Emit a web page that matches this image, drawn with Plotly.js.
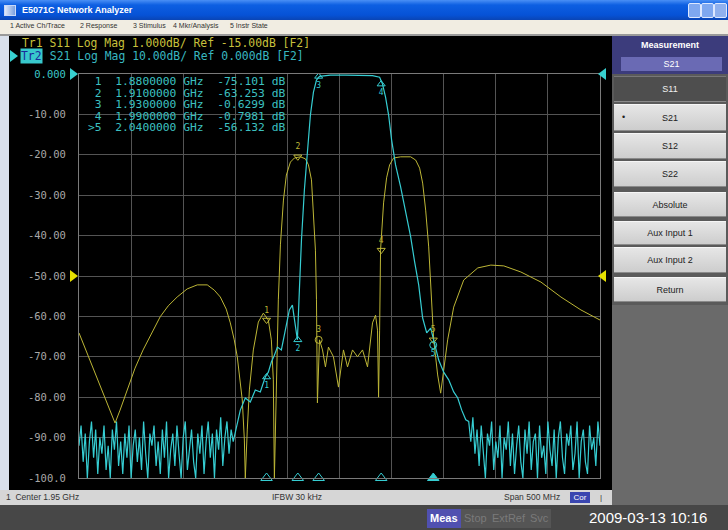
<!DOCTYPE html>
<html><head><meta charset="utf-8">
<script src="https://cdn.plot.ly/plotly-3.0.1.min.js"></script>
<style>
body{margin:0;width:728px;height:530px;overflow:hidden;background:#000;font-family:"Liberation Sans",Arial,sans-serif;position:relative}
.a{position:absolute;white-space:nowrap}
.btn{position:absolute;left:614px;width:112px;background:linear-gradient(#e6e6e6,#cdcdcd);color:#222;font-size:9px;text-align:center;box-sizing:border-box;border-top:1px solid #f6f6f6;border-bottom:1px solid #8a8a8a}
.mi{position:absolute;top:22px;font-size:7px;color:#333}
.bb{position:absolute;top:509px;height:19px;line-height:19px;font-size:11px;padding:0 3px;box-sizing:border-box}
#mktable{position:absolute;left:88px;top:76px;font-family:"DejaVu Sans Mono",monospace;font-size:11.3px;line-height:11.6px;color:#3cc0c0;white-space:pre;z-index:5}
</style></head><body>
<!-- window title bar -->
<div class="a" style="left:0;top:0;width:728px;height:20px;background:linear-gradient(#4a8ff5,#0d5fe2 25%,#0652d6 75%,#0a45b5)"></div>
<div class="a" style="left:4px;top:5px;width:10px;height:9px;background:linear-gradient(90deg,#e0e8f8,#7aa0e0);border:1px solid #c8d8f8"></div>
<div class="a" style="left:22px;top:0;height:20px;line-height:20px;font-size:9px;font-weight:bold;color:#fff">E5071C Network Analyzer</div>
<div class="a" style="left:688px;top:3px;width:11px;height:13px;background:#7fa8f0;border:1px solid #dde8ff;border-radius:2px"></div>
<div class="a" style="left:701px;top:3px;width:11px;height:13px;background:#7fa8f0;border:1px solid #dde8ff;border-radius:2px"></div>
<div class="a" style="left:714px;top:3px;width:11px;height:13px;background:#8fb0ee;border:1px solid #dde8ff;border-radius:2px"></div>
<!-- menu bar -->
<div class="a" style="left:0;top:20px;width:728px;height:14px;background:#f1ede2"></div>
<div class="mi" style="left:10px">1 Active Ch/Trace</div>
<div class="mi" style="left:80px">2 Response</div>
<div class="mi" style="left:133px">3 Stimulus</div>
<div class="mi" style="left:173px">4 Mkr/Analysis</div>
<div class="mi" style="left:230px">5 Instr State</div>
<div class="a" style="left:0;top:34px;width:728px;height:2px;background:#9a9a9a"></div>
<!-- left strip -->
<div class="a" style="left:0;top:36px;width:9px;height:469px;background:#d9e0ec"></div>
<!-- chart -->
<div id="chart" class="a" style="left:9px;top:36px;width:603px;height:454px"></div>
<div id="mktable"></div>
<!-- right panel -->
<div class="a" style="left:612px;top:36px;width:116px;height:469px;background:#5a5a5a"></div>
<div class="a" style="left:612px;top:36px;width:116px;height:38px;background:#3c3c7c"></div>
<div class="a" style="left:612px;top:40px;width:116px;text-align:center;font-size:9px;font-weight:bold;color:#fff">Measurement</div>
<div class="a" style="left:621px;top:57px;width:101px;height:14px;line-height:14px;background:#6a6ab4;text-align:center;font-size:9px;color:#fff">S21</div>
<div class="btn" style="top:76px;height:26px;line-height:25px;background:#4e4e4e;color:#f0f0f0;border-top:1px solid #777">S11</div>
<div class="btn" style="top:104px;height:27px;line-height:26px">S21</div>
<div class="a" style="left:622px;top:104px;line-height:26px;font-size:9px;color:#222">&#8226;</div>
<div class="btn" style="top:133px;height:26px;line-height:25px">S12</div>
<div class="btn" style="top:161px;height:26px;line-height:25px">S22</div>
<div class="btn" style="top:192px;height:25px;line-height:24px">Absolute</div>
<div class="btn" style="top:221px;height:24px;line-height:23px">Aux Input 1</div>
<div class="btn" style="top:247px;height:26px;line-height:25px">Aux Input 2</div>
<div class="btn" style="top:277px;height:25px;line-height:24px">Return</div>
<div class="a" style="left:612px;top:305px;width:116px;height:200px;background:#6a6a6a"></div>
<!-- status bar -->
<div class="a" style="left:0;top:490px;width:612px;height:15px;background:#d6d6d6"></div>
<div class="a" style="left:6px;top:490px;line-height:15px;font-size:8.5px;color:#333">1&nbsp;&nbsp;Center 1.95 GHz</div>
<div class="a" style="left:272px;top:490px;line-height:15px;font-size:8.5px;color:#333">IFBW 30 kHz</div>
<div class="a" style="left:504px;top:490px;line-height:15px;font-size:8.5px;color:#333">Span 500 MHz</div>
<div class="a" style="left:570px;top:492px;width:20px;height:11px;line-height:11px;background:#3a46b0;color:#fff;font-size:8px;text-align:center">Cor</div>
<div class="a" style="left:600px;top:490px;line-height:15px;font-size:8px;color:#333">|</div>
<!-- bottom bar -->
<div class="a" style="left:0;top:505px;width:728px;height:25px;background:#474747"></div>
<div class="bb" style="left:427px;background:#5050b0;color:#fff;font-weight:bold">Meas</div>
<div class="bb" style="left:461px;background:#555;color:#7a7a7a">Stop</div>
<div class="bb" style="left:489px;background:#555;color:#7a7a7a">ExtRef</div>
<div class="bb" style="left:527px;background:#555;color:#7a7a7a">Svc</div>
<div class="a" style="left:589px;top:505px;line-height:25px;font-size:15px;color:#fff">2009-03-13 10:16</div>
<script>
// ---- data ----
const sweepStart = 1.700, sweepStop = 2.200; // GHz (Center 1.95 GHz, Span 500 MHz)
const gridF = [1.70,1.75,1.80,1.85,1.90,1.95,2.00,2.05,2.10,2.15,2.20];
const yTicks = [0,-10,-20,-30,-40,-50,-60,-70,-80,-90,-100];
const yTickText = ['<span style="color:#3cc8c8">0.000</span>','-10.00','-20.00','-30.00','-40.00','-50.00','-60.00','-70.00','-80.00','-90.00','-100.0'];

// Tr1 S11 (yellow)
const s11F = [1.7000,1.7106,1.7202,1.7279,1.7346,1.7394,1.7462,1.7538,1.7615,1.7702,
1.7779,1.7856,1.7942,1.8038,1.8135,1.8231,1.8298,1.8356,1.8413,1.8452,
1.8490,1.8519,1.8548,1.8567,1.8587,1.8596,1.8615,1.8635,1.8673,1.8721,
1.8769,1.8817,1.8846,1.8865,1.8875,1.8894,1.8913,1.8933,1.8962,1.8990,
1.9029,1.9067,1.9125,1.9173,1.9202,1.9231,1.9250,1.9269,1.9279,1.9288,
1.9308,1.9337,1.9365,1.9394,1.9442,1.9490,1.9538,1.9577,1.9625,1.9673,
1.9721,1.9769,1.9817,1.9846,1.9865,1.9875,1.9885,1.9894,1.9923,1.9952,
1.9981,2.0019,2.0087,2.0183,2.0231,2.0269,2.0298,2.0327,2.0356,2.0375,
2.0404,2.0442,2.0471,2.0500,2.0538,2.0596,2.0692,2.0827,2.0952,2.1077,
2.1240,2.1433,2.1625,2.1817,2.2000];
const s11 = [-64.1,-70.8,-77.0,-81.9,-86.4,-83.2,-78.2,-72.8,-68.3,-63.9,
-60.1,-57.4,-55.2,-53.2,-52.2,-52.2,-53.5,-55.2,-58.2,-61.6,
-65.8,-70.0,-75.7,-80.7,-90.6,-100,-88.1,-78.2,-68.3,-61.4,
-59.2,-60.9,-65.8,-75.7,-100,-75.7,-55.9,-42.3,-31.2,-25.0,
-21.8,-20.8,-20.5,-21.0,-22.5,-26.2,-33.7,-43.6,-55.9,-81.4,
-65.8,-68.3,-72.5,-67.6,-70.0,-77.5,-68.3,-72.5,-68.3,-70.0,
-68.3,-72.5,-61.6,-59.7,-63.4,-80.0,-63.4,-43.6,-31.9,-25.7,
-22.5,-20.8,-20.5,-20.5,-21.3,-23.3,-27.0,-33.7,-42.8,-51.7,
-65.8,-74.5,-79.0,-73.3,-65.8,-57.7,-51.0,-48.0,-47.3,-47.5,
-49.0,-51.5,-55.2,-58.4,-60.9];

// Tr2 S21 (cyan): lower noise floor, passband, upper noise floor
const noiseStep = 0.002;
const s21LoNoise = [-92,-87,-96,-89,-100,-91,-86,-95,-88,-99,
-90,-94,-87,-98,-92,-100,-88,-93,-86,-97,
-91,-99,-89,-95,-87,-100,-92,-88,-96,-90,
-98,-86,-94,-100,-89,-92,-87,-97,-91,-99,
-88,-95,-86,-100,-93,-89,-97,-87,-94,-100,
-90,-86,-98,-92,-88,-96,-100,-89,-94,-87,
-99,-91,-86,-95,-89,-100,-88,-93,-85,-97,
-90,-86,-94,-88,-91];
const s21MidF = [1.8548,1.8596,1.8644,1.8692,1.8740,1.8788,1.8817,1.8846,1.8875,1.8904,
1.8942,1.8981,1.9019,1.9048,1.9077,1.9096,1.9115,1.9135,1.9163,1.9192,
1.9221,1.9250,1.9279,1.9308,1.9413,1.9558,1.9702,1.9817,1.9885,1.9913,
1.9942,1.9971,2.0000,2.0038,2.0087,2.0135,2.0183,2.0221,2.0260,2.0298,
2.0337,2.0375,2.0413,2.0452,2.0500,2.0548,2.0596,2.0635,2.0673,2.0712];
const s21Mid = [-83.2,-80.2,-81.2,-78.2,-78.7,-75.0,-73.8,-71.3,-69.6,-67.6,
-68.3,-63.4,-58.4,-57.2,-62.1,-65.8,-53.5,-41.1,-28.7,-18.8,
-10.1,-4.5,-1.5,-0.6,-0.3,-0.3,-0.3,-0.4,-0.8,-2.5,
-5.7,-10.1,-16.3,-22.5,-28.0,-34.2,-40.3,-46.5,-52.2,-60.4,
-64.1,-62.9,-67.1,-70.8,-73.8,-75.7,-78.7,-80.2,-83.2,-85.6];
const s21HiStart = 2.074;
const s21HiNoise = [-86,-91,-85,-94,-88,-97,-87,-94,-100,-89,
-92,-86,-98,-91,-95,-87,-100,-90,-93,-86,
-97,-89,-99,-92,-87,-96,-100,-88,-94,-86,
-98,-91,-89,-100,-87,-95,-92,-99,-86,-93,
-97,-88,-100,-90,-86,-95,-99,-89,-92,-87,
-98,-94,-86,-100,-91,-88,-96,-99,-87,-93,
-90,-97,-86,-92];

// Markers (Tr2 active)
const mkLabels = ['1','2','3','4','5'];
const mkF = [1.88,1.91,1.93,1.99,2.04];
const mkVal = ['-75.101','-63.253','-0.6299','-0.7981','-56.132'];

// ---- build ----
const s21F = [], s21 = [];
s21LoNoise.forEach((v,i)=>{s21F.push(+(sweepStart+i*noiseStep).toFixed(4)); s21.push(v);});
s21MidF.forEach((f,i)=>{s21F.push(f); s21.push(s21Mid[i]);});
s21HiNoise.forEach((v,i)=>{s21F.push(+(s21HiStart+i*noiseStep).toFixed(4)); s21.push(v);});

function nearest(fa, va, f){let bi=0;fa.forEach((x,i)=>{if(Math.abs(x-f)<Math.abs(fa[bi]-f))bi=i;});return va[bi];}
const mk21Y = mkF.map(f=>nearest(s21F,s21,f));
const mk11Y = mkF.map(f=>nearest(s11F,s11,f));

// marker readout table (real text)
document.getElementById('mktable').textContent = mkF.map((f,i)=>
  (i===4?'>':' ')+mkLabels[i]+'  '+f.toFixed(7)+' GHz  '+mkVal[i]+' dB').join('\n');

const CY='#36cdd2', YE='#bdb636';
const mono='DejaVu Sans Mono, monospace';
const traces = [
 {x:s11F,y:s11,mode:'lines',line:{color:YE,width:1},hoverinfo:'skip'},
 {x:s21F,y:s21,mode:'lines',line:{color:CY,width:1.2},hoverinfo:'skip'},
 {x:mkF,y:mk11Y,mode:'markers+text',text:mkLabels,textposition:'top center',
  textfont:{family:mono,size:8,color:YE},
  marker:{symbol:['triangle-down-open','triangle-down-open','circle-open','triangle-down-open','triangle-down-open'],size:7,color:YE,line:{width:1}},hoverinfo:'skip'},
 {x:mkF,y:mk21Y,mode:'markers+text',text:mkLabels,textposition:'bottom center',
  textfont:{family:mono,size:8,color:CY},
  marker:{symbol:['triangle-up-open','triangle-up-open','triangle-up-open','triangle-up-open','circle-open'],size:7,color:CY,line:{width:1}},hoverinfo:'skip'},
 {x:mkF,y:mkF.map(()=>-100),mode:'markers',cliponaxis:false,
  marker:{symbol:['triangle-up-open','triangle-up-open','triangle-up-open','triangle-up-open','triangle-up'],size:10,color:CY,line:{width:1,color:CY}},hoverinfo:'skip'}
];

// pixel helpers for the header text (plot area 521 x 404 px)
const px = X => (X-79)/521, py = Y => (478-Y)/404;
const ann = [];
ann.push({xref:'paper',yref:'paper',x:px(20),y:py(43),xanchor:'left',yanchor:'middle',showarrow:false,
  text:'Tr1 S11 Log Mag 1.000dB/ Ref -15.00dB [F2]',font:{family:mono,size:11.4,color:'#c8c03c'}});
ann.push({xref:'paper',yref:'paper',x:px(20),y:py(56),xanchor:'left',yanchor:'middle',showarrow:false,
  text:'Tr2',bgcolor:'#38c8cc',borderpad:0,font:{family:mono,size:11.4,color:'#1a2a9a'}});
ann.push({xref:'paper',yref:'paper',x:px(41),y:py(56),xanchor:'left',yanchor:'middle',showarrow:false,
  text:' S21 Log Mag 10.00dB/ Ref 0.000dB [F2]',font:{family:mono,size:11.4,color:'#38b8c0'}});

const tri=(xt,yc,dir,col)=>({type:'path',xref:'paper',yref:'paper',
  path:dir>0?`M ${xt-8/521},${yc+6/404} L ${xt},${yc} L ${xt-8/521},${yc-6/404} Z`
            :`M ${xt+8/521},${yc+6/404} L ${xt},${yc} L ${xt+8/521},${yc-6/404} Z`,
  fillcolor:col,line:{width:0}});
const shapes=[
  tri(px(78),py(74),1,'#38d0d0'), tri(px(598),py(74),-1,'#38d0d0'),
  tri(px(78),py(276),1,'#e6e000'), tri(px(598),py(276),-1,'#e6e000'),
  tri(px(18),py(56),1,'#38d0d0')
];

const layout={width:603,height:454,margin:{l:70,r:12,t:38,b:12},
 paper_bgcolor:'#000',plot_bgcolor:'#000',showlegend:false,
 xaxis:{range:[sweepStart,sweepStop],tickvals:gridF,showticklabels:false,ticks:'',showgrid:true,gridcolor:'#545454',gridwidth:1,zeroline:false,showline:true,linecolor:'#7a7a7a',mirror:true},
 yaxis:{range:[-100,0],tickvals:yTicks,ticktext:yTickText,ticks:'',showgrid:true,gridcolor:'#545454',gridwidth:1,zeroline:false,showline:true,linecolor:'#7a7a7a',mirror:true,
   tickfont:{family:mono,size:10.5,color:'#a8a8a8'},ticklabelstandoff:10},
 annotations:ann,shapes:shapes};
Plotly.newPlot('chart',traces,layout,{staticPlot:true,displayModeBar:false});
</script>
</body></html>
